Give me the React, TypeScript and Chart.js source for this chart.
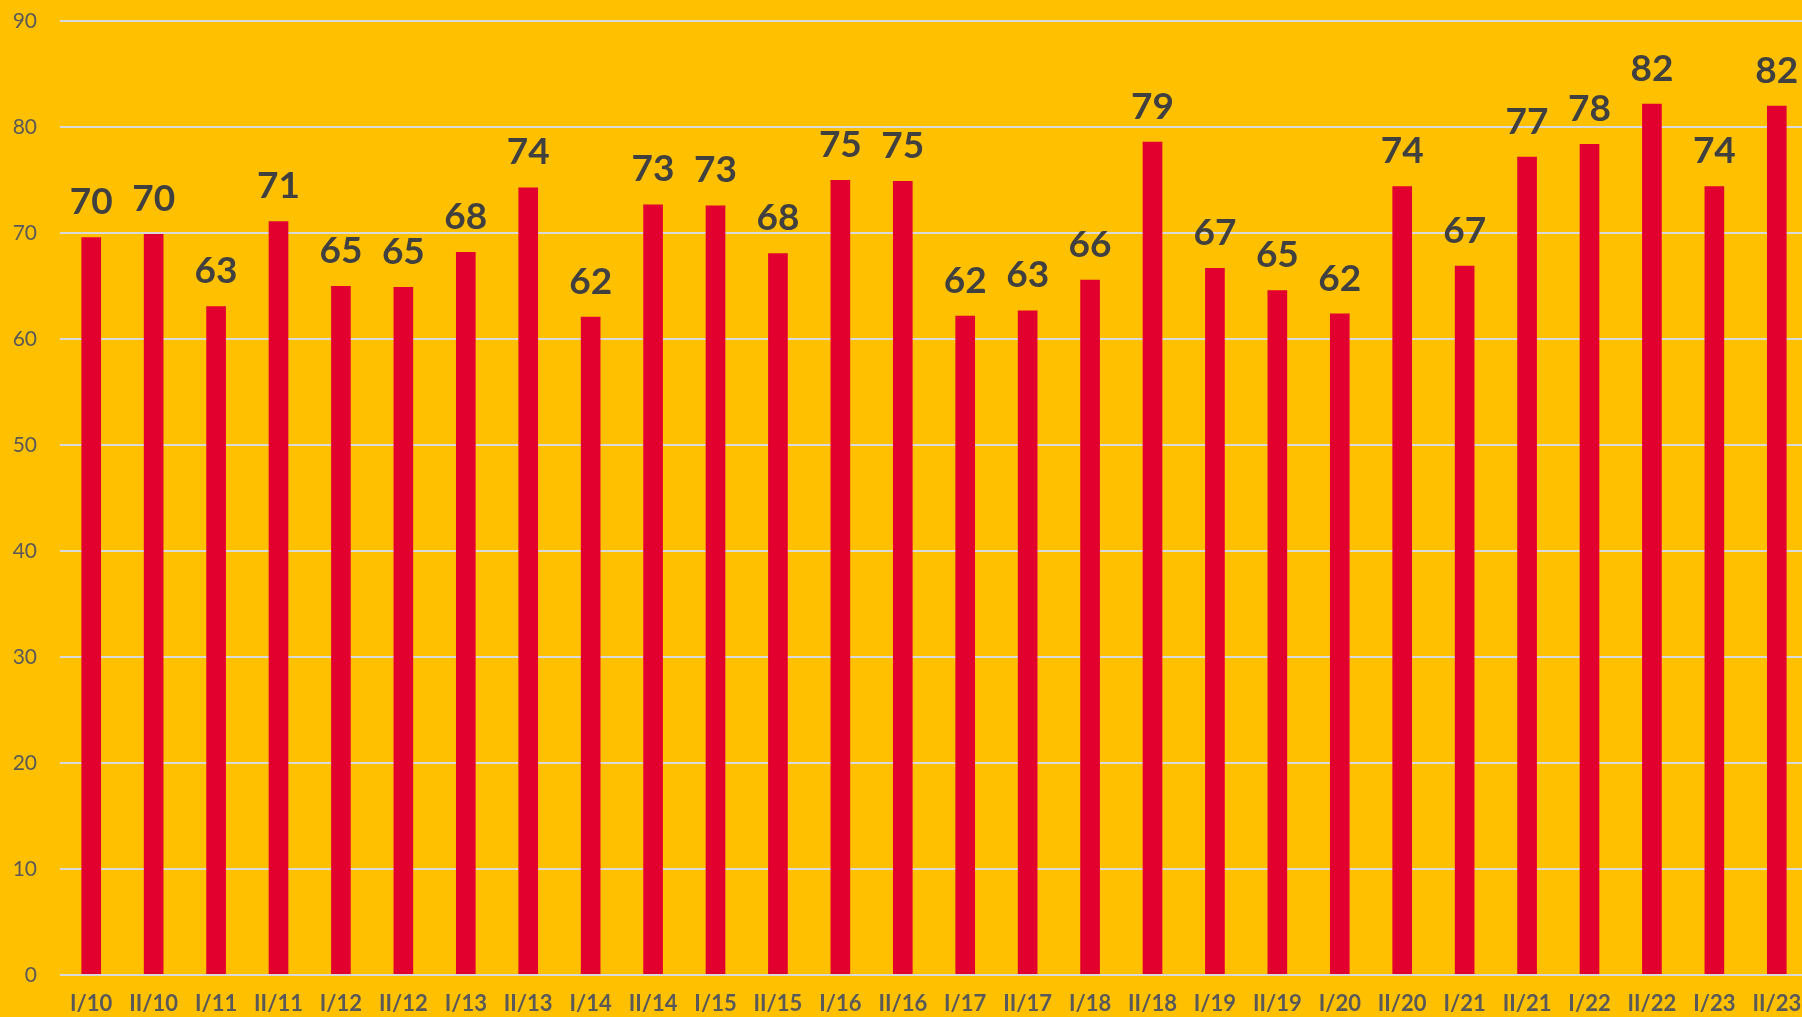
import React, { useEffect, useRef } from "react";
import { Chart, registerables } from "chart.js";

Chart.register(...registerables);

const categories = [
  "I/10", "II/10", "I/11", "II/11", "I/12", "II/12", "I/13", "II/13", "I/14", "II/14",
  "I/15", "II/15", "I/16", "II/16", "I/17", "II/17", "I/18", "II/18", "I/19", "II/19",
  "I/20", "II/20", "I/21", "II/21", "I/22", "II/22", "I/23", "II/23",
];
const values = [
  69.6, 69.9, 63.1, 71.1, 65.0, 64.9, 68.2, 74.3, 62.1, 72.7,
  72.6, 68.1, 75.0, 74.9, 62.2, 62.7, 65.6, 78.6, 66.7, 64.6,
  62.4, 74.4, 66.9, 77.2, 78.4, 82.2, 74.4, 82.0,
];
const yTicks = [0, 10, 20, 30, 40, 50, 60, 70, 80, 90];

const FONT = "Lato, 'Open Sans', sans-serif";

const bgPlugin = {
  id: "bgFill",
  beforeDraw(chart: any) {
    const { ctx, width, height } = chart;
    ctx.save();
    ctx.fillStyle = "#FFC000";
    ctx.fillRect(0, 0, width, height);
    ctx.restore();
  },
};

const labelPlugin = {
  id: "valueLabels",
  afterDatasetsDraw(chart: any) {
    const { ctx } = chart;
    const meta = chart.getDatasetMeta(0);
    ctx.save();
    ctx.font = `bold 37px ${FONT}`;
    ctx.fillStyle = "#404040";
    ctx.textAlign = "center";
    ctx.textBaseline = "alphabetic";
    meta.data.forEach((bar: any, i: number) => {
      const v = chart.data.datasets[0].data[i] as number;
      ctx.fillText(String(Math.round(v)), bar.x, bar.y - 23);
    });
    ctx.restore();
  },
};

export default function App() {
  const ref = useRef<HTMLCanvasElement>(null);
  useEffect(() => {
    document.body.style.margin = "0";
    document.body.style.overflow = "hidden";
    const chart = new Chart(ref.current!, {
      type: "bar",
      data: {
        labels: categories,
        datasets: [
          {
            data: values,
            backgroundColor: "#E2002F",
            borderWidth: 0,
            categoryPercentage: 1,
            barPercentage: 0.315,
          },
        ],
      },
      options: {
        animation: false,
        responsive: false,
        maintainAspectRatio: false,
        layout: { padding: { top: 21, right: 0, left: 0, bottom: 0 } },
        plugins: { legend: { display: false }, tooltip: { enabled: false } },
        scales: {
          x: {
            grid: { display: false, drawTicks: false },
            border: { display: false },
            ticks: {
              color: "#595959",
              font: { family: FONT, size: 22, weight: "bold" },
              padding: 16,
              maxRotation: 0,
              autoSkip: false,
            },
            afterFit(scale: any) {
              scale.height = 42;
              scale.paddingLeft = 0;
              scale.paddingRight = 0;
            },
          },
          y: {
            min: 0,
            max: 90,
            afterBuildTicks(scale: any) {
              scale.ticks = yTicks.map((v) => ({ value: v }));
            },
            grid: { color: "#D9D9D9", lineWidth: 2, drawTicks: false },
            border: { display: false },
            ticks: {
              color: "#595959",
              font: { family: FONT, size: 21 },
              padding: 23,
            },
            afterFit(scale: any) {
              scale.width = 60;
              scale.paddingTop = 0;
              scale.paddingBottom = 0;
            },
          },
        },
      },
      plugins: [bgPlugin, labelPlugin],
    });
    return () => chart.destroy();
  }, []);
  return (
    <div
      style={{
        position: "fixed",
        left: 0,
        top: 0,
        width: 1802,
        height: 1017,
        overflow: "hidden",
        background: "#FFC000",
      }}
    >
      <canvas ref={ref} width={1808} height={1017} style={{ display: "block" }} />
    </div>
  );
}
